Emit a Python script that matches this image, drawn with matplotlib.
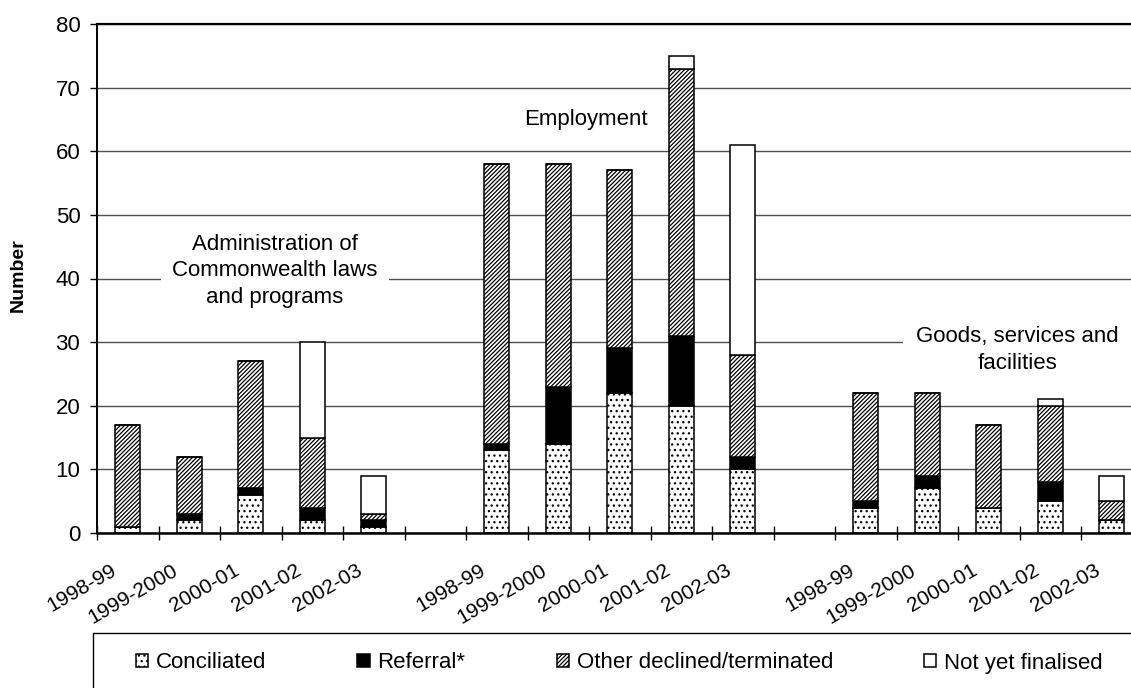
import numpy as np
import matplotlib
matplotlib.use("Agg")
import matplotlib.pyplot as plt
from matplotlib.patches import Rectangle
from matplotlib.transforms import ScaledTranslation

plt.rcParams['font.family'] = ['Liberation Sans', 'DejaVu Sans']
plt.rcParams['hatch.linewidth'] = 0.9

# 每组的年度
years = ['1998-99', '1999-2000', '2000-01', '2001-02', '2002-03']
areas = ['Administration of\nCommonwealth laws\nand programs',
         'Employment',
         'Goods, services and\nfacilities']

# 三组依次排列，每组 5 个年度
conciliated = [1, 2, 6, 2, 1, 13, 14, 22, 20, 10, 4, 7, 4, 5, 2]
referral = [0, 1, 1, 2, 1, 1, 9, 7, 11, 2, 1, 2, 0, 3, 0]
other = [16, 9, 20, 11, 1, 44, 35, 28, 42, 16, 17, 13, 13, 12, 3]
not_yet = [0, 0, 0, 15, 6, 0, 0, 0, 2, 33, 0, 0, 0, 1, 4]

series = [
    ('Conciliated', conciliated, 'white', '...'),
    ('Referral*', referral, 'black', None),
    ('Other declined/terminated', other, 'white', '////////'),
    ('Not yet finalised', not_yet, 'white', None),
]

# 组与组之间空一个位置
x = np.array([g * 6 + i for g in range(len(areas)) for i in range(len(years))])
xlabels = years * len(areas)

fig = plt.figure(figsize=(11.31, 6.88), dpi=100)
ax = fig.add_axes([97 / 1131, 155 / 688, 1045.5 / 1131, 509 / 688])

bottom = np.zeros(len(x))
handles = []
for name, vals, face, hatch in series:
    vals = np.array(vals)
    bars = ax.bar(x, vals, width=0.41, bottom=bottom, color=face,
                  edgecolor='black', linewidth=1.1, hatch=hatch, label=name,
                  zorder=2)
    handles.append(bars)
    bottom = bottom + vals

ax.set_xlim(-0.5, 16.5)
ax.set_ylim(0, 80)
ax.set_yticks(np.arange(0, 81, 10))
ax.yaxis.grid(True, color='#505050', linewidth=1.0)
ax.set_axisbelow(True)

ax.spines['right'].set_visible(False)
ax.spines['top'].set_linewidth(1.6)
ax.spines['left'].set_linewidth(1.4)
ax.spines['bottom'].set_linewidth(1.8)

ax.set_xticks(x)
ax.set_xticklabels(xlabels)
ax.set_xticks(np.arange(-0.5, 17, 1), minor=True)
ax.tick_params(axis='x', which='major', length=0, pad=26, labelsize=15)
ax.tick_params(axis='x', which='minor', direction='inout', length=10, width=1)
ax.tick_params(axis='y', direction='out', length=5, width=1, pad=7, labelsize=16)
plt.setp(ax.get_xticklabels(), rotation=30, ha='right', va='center',
         rotation_mode='anchor')
shift = ScaledTranslation(-13 / 100, 0, fig.dpi_scale_trans)
for lab in ax.get_xticklabels():
    lab.set_transform(lab.get_transform() + shift)

ax.set_ylabel('Number', fontsize=14, fontweight='bold')
ax.yaxis.set_label_coords(-0.067, 0.507)

# 各组名称
ax.text(2.39, 41.2, areas[0], ha='center', va='center', fontsize=16,
        linespacing=1.35, zorder=3,
        bbox=dict(facecolor='white', edgecolor='none', pad=8))
ax.text(7.45, 65.0, areas[1], ha='center', va='center', fontsize=16, zorder=3)
ax.text(14.46, 28.8, areas[2], ha='center', va='center', fontsize=16,
        linespacing=1.35, zorder=3,
        bbox=dict(facecolor='white', edgecolor='none', pad=9))

# 图例外框
fig.add_artist(Rectangle((93 / 1131, -0.1), 1.0, (688 - 633) / 688 + 0.1,
                         transform=fig.transFigure, facecolor='none',
                         edgecolor='black', linewidth=1.0))
fig.legend(handles, [s[0] for s in series], loc='center left',
           bbox_to_anchor=(136 / 1131, 1 - 663 / 688), ncol=4, frameon=False,
           fontsize=16, handlelength=0.55, handleheight=0.55,
           handletextpad=0.35, columnspacing=4.1, borderpad=0,
           borderaxespad=0)

fig.savefig('out.png', dpi=100)
